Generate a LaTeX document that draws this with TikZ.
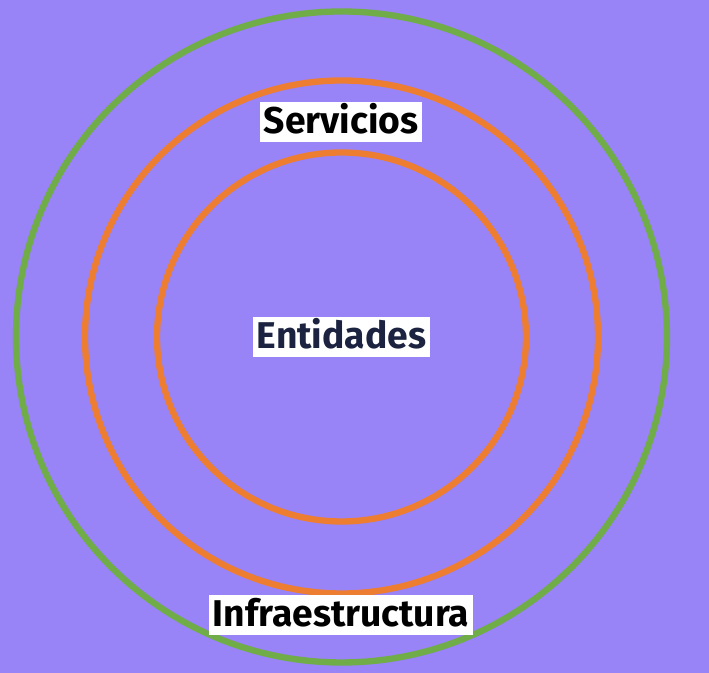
\documentclass[tikz,border=0pt]{standalone}
\usepackage{fontspec}
\setmainfont{Fira Sans}
\usepackage{tikz}
\usetikzlibrary{positioning}
\definecolor{layerbg}{RGB}{152,131,247}
\definecolor{layergreen}{RGB}{112,172,72}
\definecolor{layerorange}{RGB}{237,125,49}
\definecolor{layernavy}{RGB}{27,35,64}

\begin{document}
\begin{tikzpicture}[every node/.style={font=\bfseries\fontsize{10.6}{12}\selectfont},
  ring/.style={line width=1.8pt},
  layerlabel/.style={fill=white, inner sep=1pt, text height=8pt, text depth=1.2pt}]
\fill[layerbg] (0,0) rectangle (7.09,6.73);
\useasboundingbox (0,0) rectangle (7.09,6.73);
\coordinate (center) at (3.415,3.36);
\draw[ring, layergreen] (center) circle (3.255);
\draw[ring, layerorange] (center) circle (2.565);
\draw[ring, layerorange] (center) circle (1.845);
\node[layerlabel] (servicios) at (3.41,5.51) {Servicios};
\node[layerlabel, text=layernavy] (entidades) at (center) {Entidades};
\node[layerlabel] (infra) at (3.41,0.58) {Infraestructura};
\end{tikzpicture}
\end{document}
